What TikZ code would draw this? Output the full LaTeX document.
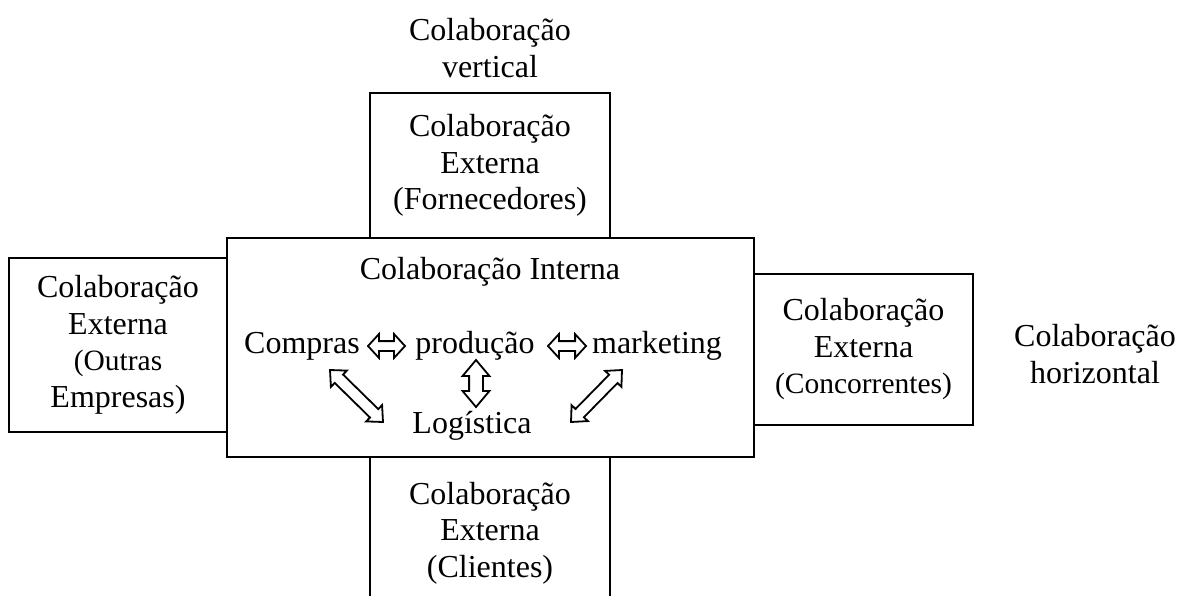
\documentclass[tikz,border=0pt]{standalone}
\usepackage{fontspec}
\setmainfont{Liberation Serif}
\usetikzlibrary{shapes.arrows,calc}

\tikzset{
  big/.style={font=\fontsize{32}{36.5}\selectfont},
  box/.style={draw, line width=2.8pt, align=center, inner sep=0pt, big},
  lbl/.style={align=center, inner sep=0pt, big},
  dblarrow/.style={double arrow, draw, line width=1.8pt, inner sep=4pt,
    double arrow head extend=7pt, double arrow tip angle=95},
  tallarrow/.style={inner sep=6pt, double arrow head extend=6.5pt,
    double arrow tip angle=80},
  slantarrow/.style={inner sep=5pt, double arrow head extend=5.5pt,
    double arrow tip angle=85},
}
\newcommand\smalltxt{\fontsize{29.5}{35}\selectfont}
% hollow two-headed arrow between two named points
\newcommand\hollowlink[3][]{%
  \path let \p1=($(#3)-(#2)$), \n1={veclen(\x1,\y1)}, \n2={atan2(\y1,\x1)} in
    node[dblarrow, #1, minimum height=\n1, rotate=\n2] at ($(#2)!0.5!(#3)$) {};}

\begin{document}
\begin{tikzpicture}[x=1pt, y=-1pt]
\clip (0,0) rectangle (1179,595);

% boxes
\node[box, minimum width=527pt, minimum height=219pt] (interna) at (490.5,347.5) {};
\node[box, minimum width=240pt, minimum height=145pt] (fornec) at (490,165.5)
  {Colaboração\\Externa\\(Fornecedores)};
\node[box, minimum width=240pt, minimum height=152pt] (clientes) at (490,533)
  {Colaboração\\Externa\\(Clientes)};
\node[box, minimum width=218pt, minimum height=174pt] (outras) at (118,345)
  {Colaboração\\Externa\\\smalltxt(Outras\\Empresas)};
\node[box, minimum width=219pt, minimum height=151pt] (concorr) at (863.5,349.5)
  {Colaboração\\Externa\\\smalltxt(Concorrentes)};

% outer labels
\node[lbl] (vert) at (490,48) {Colaboração\\vertical};
\node[lbl] (horiz) at (1095,354) {Colaboração\\horizontal};

% internal collaboration
\node[lbl] (titulo) at (490,272) {Colaboração Interna};
\node[lbl] (compras) at (302,346) {Compras};
\node[lbl] (producao) at (475,346) {produção};
\node[lbl] (marketing) at (657,346) {marketing};
\node[lbl] (logistica) at (472,426) {Logística};

% arrow end points
\coordinate (c1) at (368,346);
\coordinate (p1) at (405,346);
\coordinate (p2) at (548,346);
\coordinate (m1) at (586,346);
\coordinate (p3) at (476,360);
\coordinate (l1) at (476,407);
\coordinate (c2) at (330,370);
\coordinate (l2) at (383,422);
\coordinate (m2) at (622,370);
\coordinate (l3) at (571,422);

\hollowlink{c1}{p1}
\hollowlink{p2}{m1}
\hollowlink[tallarrow]{p3}{l1}
\hollowlink[slantarrow]{c2}{l2}
\hollowlink[slantarrow]{m2}{l3}
\end{tikzpicture}
\end{document}
